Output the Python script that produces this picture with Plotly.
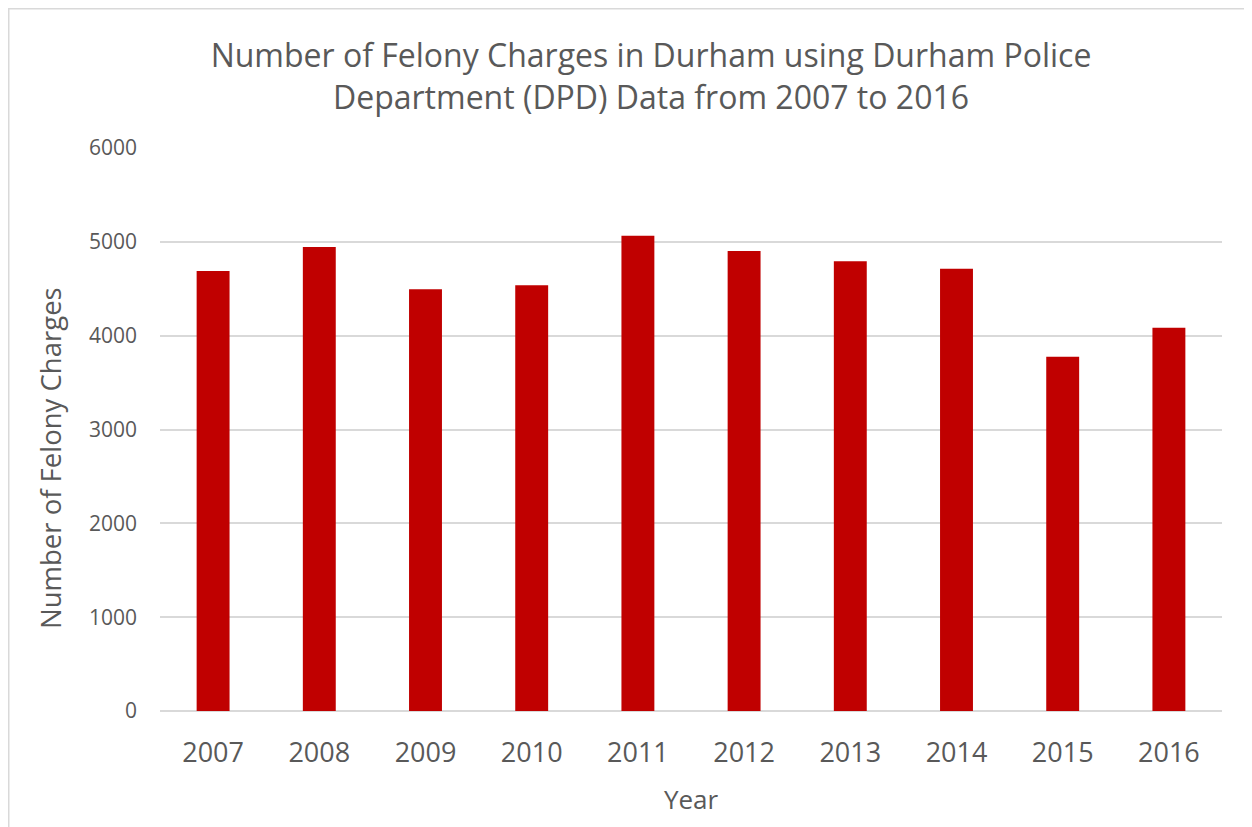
import plotly.graph_objects as go

years = ["2007", "2008", "2009", "2010", "2011", "2012", "2013", "2014", "2015", "2016"]
charges = [4689, 4945, 4494, 4537, 5065, 4902, 4792, 4714, 3776, 4085]
y_ticks = [0, 1000, 2000, 3000, 4000, 5000, 6000]

FONT = "Open Sans"
GRAY = "#595959"

fig = go.Figure(go.Bar(x=years, y=charges, marker=dict(color="#c00000", line=dict(width=0)), width=0.31))

# page body has an 8px margin, so figure coords = screen coords - 8
W, H = 1236, 819
L, R, T, B = 152, 22, 140, 116
pw, ph = W - L - R, H - T - B

def px2paper_x(px):
    return (px - L) / pw

def px2paper_y(py):
    return (H - B - py) / ph

fig.update_layout(
    width=W, height=H,
    margin=dict(l=L, r=R, t=T, b=B),
    paper_bgcolor="white", plot_bgcolor="white",
    showlegend=False,
    font=dict(family=FONT, color=GRAY),
    title=dict(
        text="Number of Felony Charges in Durham using Durham Police<br>Department (DPD) Data from 2007 to 2016",
        x=643 / W, xanchor="center", xref="container",
        y=1 - 59 / H, yanchor="middle", yref="container",
        font=dict(family=FONT, size=32, color=GRAY),
    ),
    xaxis=dict(
        showgrid=False, showline=False, zeroline=False,
        tickfont=dict(family=FONT, size=27, color=GRAY),
        ticks="", ticklabelstandoff=23,
        title=dict(text="Year", font=dict(family=FONT, size=26, color=GRAY), standoff=21),
    ),
    yaxis=dict(
        range=[0, 6000], tickvals=y_ticks,
        showgrid=True, gridcolor="#d9d9d9", gridwidth=1.5,
        zeroline=True, zerolinecolor="#d9d9d9", zerolinewidth=1.5,
        showline=False, ticks="", ticklabelstandoff=22,
        tickfont=dict(family=FONT, size=21, color=GRAY),
    ),
    annotations=[dict(
        text="Number of Felony Charges", textangle=-90, showarrow=False,
        xref="paper", yref="paper", x=px2paper_x(42), y=px2paper_y(450),
        xanchor="center", yanchor="middle",
        font=dict(family=FONT, size=27.5, color=GRAY),
    )],
    shapes=[dict(
        type="rect", xref="paper", yref="paper",
        x0=px2paper_x(0.75), x1=px2paper_x(1300), y0=px2paper_y(0.75), y1=px2paper_y(900),
        line=dict(color="#d9d9d9", width=1.5), fillcolor="rgba(0,0,0,0)", layer="below",
    )],
)

fig.write_html("out.html")
